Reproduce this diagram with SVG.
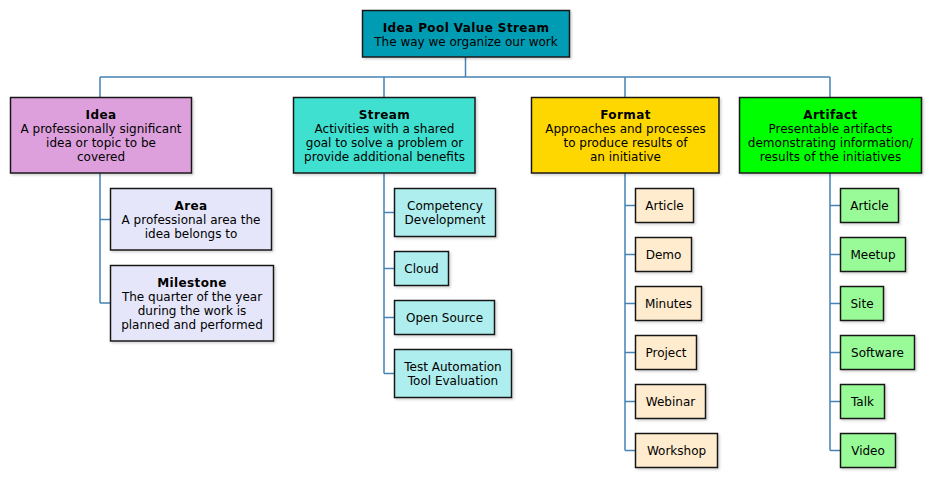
<svg xmlns="http://www.w3.org/2000/svg" width="931" height="477" viewBox="0 0 931 477">
<defs>
<filter id="sh" x="-10%" y="-10%" width="130%" height="130%">
<feDropShadow dx="1.5" dy="1.5" stdDeviation="1" flood-color="#000" flood-opacity="0.18"/>
</filter>
<style>
rect{stroke:#181818;stroke-width:1.5;filter:url(#sh)}
text{font-family:"DejaVu Sans",sans-serif;font-size:12px;fill:#000;text-anchor:middle}
.b{font-weight:bold;letter-spacing:0.4px}
#connectors path{fill:none;stroke:#4682B4;stroke-width:1.5}
.root{fill:#009CB3}.idea{fill:#DDA0DD}.stream{fill:#40E0D0}.format{fill:#FFD700}.artifact{fill:#00FF00}
.lav{fill:#E6E6FA}.pt{fill:#AFEEEE}.ba{fill:#FFEBCD}.pg{fill:#98FB98}
</style>
</defs>
<rect width="931" height="477" style="fill:#fff;stroke:none;filter:none"/>
<g id="connectors">
<path d="M465.5 57V77M100 77H830M100 77V97M384 77V97M625 77V97M830 77V97"/>
<path d="M100 173V303M100 219.5H110M100 303H110"/>
<path d="M384 173V373.5M384 212.5H394M384 268.5H394M384 317.5H394M384 373.5H394"/>
<path d="M625 173V450.5M625 205.5H635M625 254.5H635M625 303.5H635M625 352.5H635M625 401.5H635M625 450.5H635"/>
<path d="M830 173V450.5M830 205.5H840M830 254.5H840M830 303.5H840M830 352.5H840M830 401.5H840M830 450.5H840"/>
</g>
<g id="root"><rect class="root" x="362.5" y="10.5" width="207" height="46.5"/><text x="466" y="31.5" class="b">Idea Pool Value Stream</text><text x="466" y="45.5">The way we organize our work</text></g>
<g id="idea"><rect class="idea" x="10.5" y="97.5" width="181" height="75.5"/><text x="101" y="119" class="b">Idea</text><text x="101" y="133">A professionally significant</text><text x="101" y="147">idea or topic to be</text><text x="101" y="161">covered</text></g>
<g id="area"><rect class="lav" x="110.5" y="188.5" width="161" height="61.5"/><text x="191" y="210" class="b">Area</text><text x="191" y="224">A professional area the</text><text x="191" y="238">idea belongs to</text></g>
<g id="milestone"><rect class="lav" x="110.5" y="265.5" width="163" height="75.5"/><text x="192" y="287" class="b">Milestone</text><text x="192" y="301">The quarter of the year</text><text x="192" y="315">during the work is</text><text x="192" y="329">planned and performed</text></g>
<g id="stream"><rect class="stream" x="293.5" y="97.5" width="181.5" height="75.5"/><text x="384.5" y="119" class="b">Stream</text><text x="384.5" y="133">Activities with a shared</text><text x="384.5" y="147">goal to solve a problem or</text><text x="384.5" y="161">provide additional benefits</text></g>
<g id="competency"><rect class="pt" x="394.5" y="188.5" width="101" height="48"/><text x="445" y="210">Competency</text><text x="445" y="224">Development</text></g>
<g id="cloud"><rect class="pt" x="394.5" y="251.5" width="54" height="34"/><text x="421.5" y="273">Cloud</text></g>
<g id="opensource"><rect class="pt" x="394.5" y="300.5" width="100" height="34"/><text x="444.5" y="322">Open Source</text></g>
<g id="testautomation"><rect class="pt" x="394.5" y="349.5" width="117" height="48"/><text x="453" y="371">Test Automation</text><text x="453" y="385">Tool Evaluation</text></g>
<g id="format"><rect class="format" x="531.5" y="97.5" width="187.5" height="75.5"/><text x="625.5" y="119" class="b">Format</text><text x="625.5" y="133">Approaches and processes</text><text x="625.5" y="147">to produce results of</text><text x="625.5" y="161">an initiative</text></g>
<g id="f-article"><rect class="ba" x="635.5" y="188.5" width="58" height="34"/><text x="664.5" y="210">Article</text></g>
<g id="f-demo"><rect class="ba" x="635.5" y="237.5" width="56" height="34"/><text x="663.5" y="259">Demo</text></g>
<g id="f-minutes"><rect class="ba" x="635.5" y="286.5" width="66" height="34"/><text x="668.5" y="308">Minutes</text></g>
<g id="f-project"><rect class="ba" x="635.5" y="335.5" width="61" height="34"/><text x="666" y="357">Project</text></g>
<g id="f-webinar"><rect class="ba" x="635.5" y="384.5" width="70" height="34"/><text x="670.5" y="406">Webinar</text></g>
<g id="f-workshop"><rect class="ba" x="635.5" y="433.5" width="82" height="34"/><text x="676.5" y="455">Workshop</text></g>
<g id="artifact"><rect class="artifact" x="739.5" y="97.5" width="182" height="75.5"/><text x="830.5" y="119" class="b">Artifact</text><text x="830.5" y="133">Presentable artifacts</text><text x="830.5" y="147">demonstrating information/</text><text x="830.5" y="161">results of the initiatives</text></g>
<g id="a-article"><rect class="pg" x="840.5" y="188.5" width="58" height="34"/><text x="869.5" y="210">Article</text></g>
<g id="a-meetup"><rect class="pg" x="840.5" y="237.5" width="65" height="34"/><text x="873" y="259">Meetup</text></g>
<g id="a-site"><rect class="pg" x="840.5" y="286.5" width="43" height="34"/><text x="862" y="308">Site</text></g>
<g id="a-software"><rect class="pg" x="840.5" y="335.5" width="74" height="34"/><text x="877.5" y="357">Software</text></g>
<g id="a-talk"><rect class="pg" x="840.5" y="384.5" width="44" height="34"/><text x="862.5" y="406">Talk</text></g>
<g id="a-video"><rect class="pg" x="840.5" y="433.5" width="55" height="34"/><text x="868" y="455">Video</text></g>
</svg>
